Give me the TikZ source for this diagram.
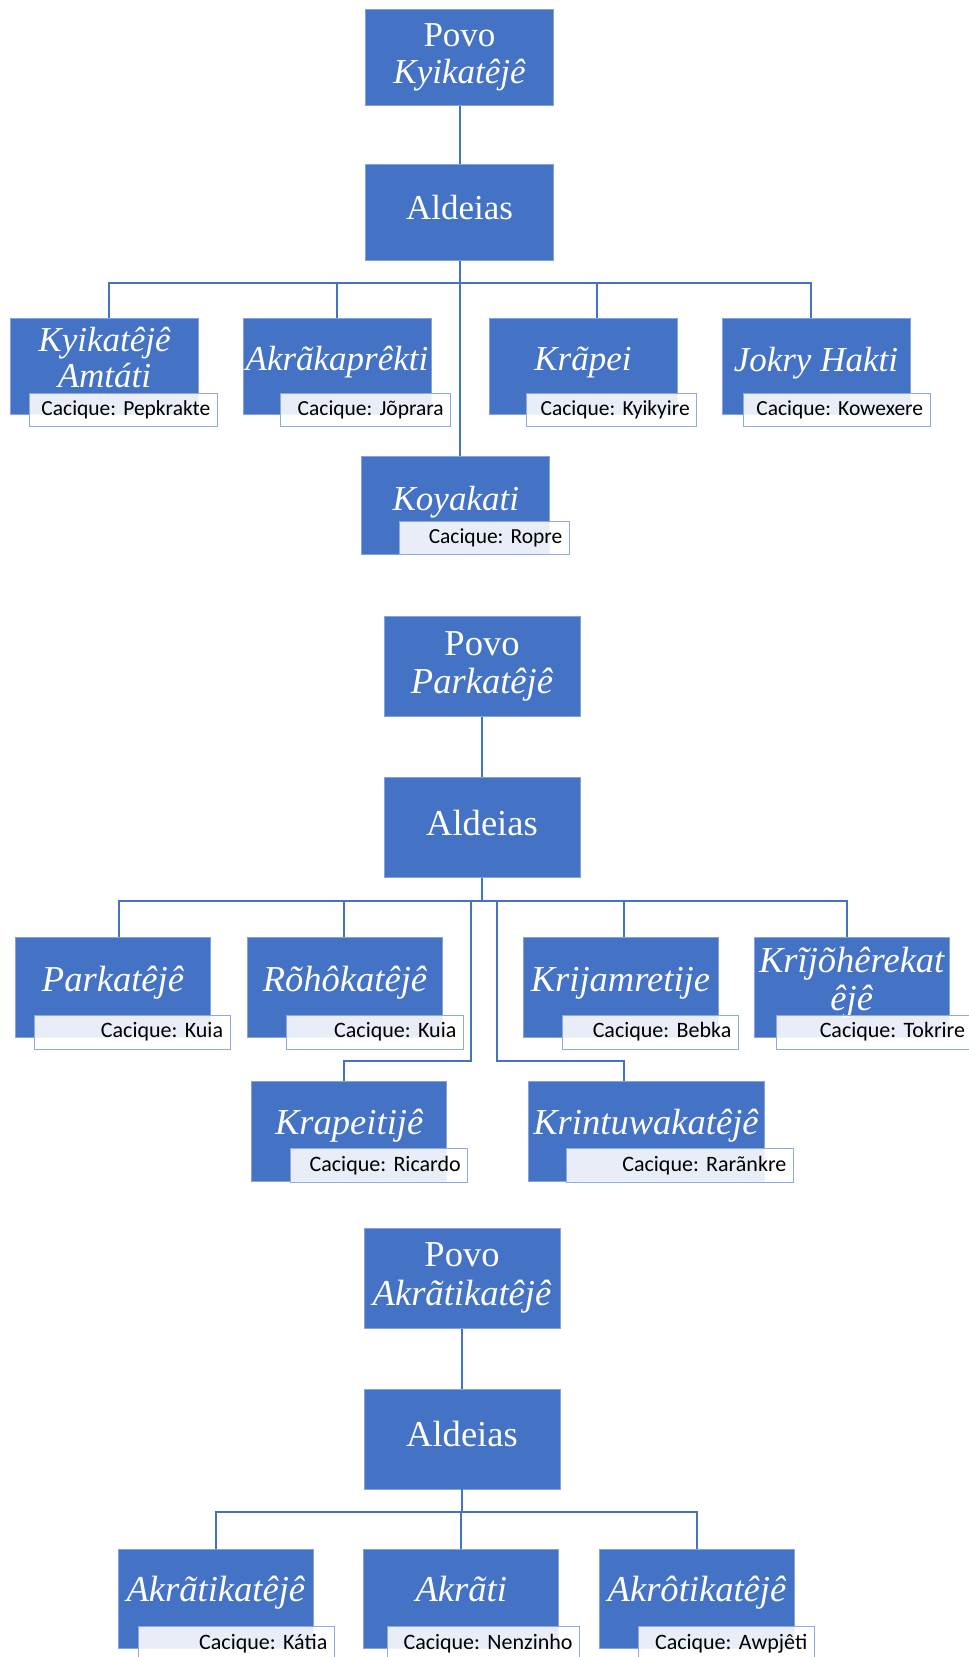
\documentclass[tikz,border=0pt]{standalone}
\usepackage{fontspec}
\setmainfont{Liberation Serif}
\newfontfamily\cacfont{Carlito}
\usetikzlibrary{calc}
\definecolor{boxblue}{HTML}{4472C4}
\definecolor{cacedge}{HTML}{8FAADC}
\definecolor{linkblue}{HTML}{4472C4}

\begin{document}
\begin{tikzpicture}[x=0.75pt, y=-0.75pt,
  vilbox/.style={rectangle, fill=boxblue, draw=boxblue!65!white, line width=0.5pt, inner sep=0pt},
  top1/.style={vilbox, text=white, align=center, minimum width=141pt, minimum height=72pt,
    font=\fontsize{26.25pt}{27.6pt}\selectfont},
  top2/.style={top1, minimum width=147pt, minimum height=75pt,
    font=\fontsize{27.4pt}{28.6pt}\selectfont},
  vil1/.style={vilbox, minimum width=141pt, minimum height=72pt},
  vil2/.style={vilbox, minimum width=146.25pt, minimum height=75pt},
  name1/.style={text=white, inner sep=0pt, anchor=base, align=center,
    font=\fontsize{26.25pt}{27.5pt}\selectfont\itshape},
  name2/.style={name1, font=\fontsize{27.4pt}{28.6pt}\selectfont\itshape},
  cac1/.style={rectangle, draw=cacedge, line width=0.75pt, fill=white, fill opacity=0.88,
    text opacity=1, text=black, inner xsep=5.25pt, inner ysep=0pt, align=right,
    minimum height=24.75pt, font=\cacfont\frenchspacing\fontsize{16.1pt}{19pt}\selectfont},
  cac2/.style={cac1, minimum height=25.5pt,
    font=\cacfont\frenchspacing\fontsize{16.5pt}{19.5pt}\selectfont},
  link/.style={draw=linkblue, line width=1.5pt}]

  \useasboundingbox (0,0) rectangle (968,1657);

  % ---- Povo Kyikatêjê ----
  \node[top1] (pk) at (459.5,57.5) {\strut Povo\\\strut\textit{Kyikatêjê}};
  \node[top1] (ak) at (459.5,212.3) {\strut Aldeias};

  \node[vil1] (k1) at (104.5,366.4) {};
  \node[vil1] (k2) at (337,366.4) {};
  \node[vil1] (k3) at (583,366.4) {};
  \node[vil1] (k4) at (815.9,366.4) {};
  \node[vil1, minimum height=73.3pt] (k5) at (455.8,505.2) {};

  % base of a two-line name is its last line
  \node[name1] (k1n) at ($(k1.north)+(0,69.8)$) {Kyikatêjê\\Amtáti};
  \node[name1] (k2n) at ($(k2.north)+(0,52.2)$) {Akrãkaprêkti};
  \node[name1] (k3n) at ($(k3.north)+(0,52.2)$) {Krãpei};
  \node[name1] (k4n) at ($(k4.north)+(0,53.5)$) {Jokry Hakti};
  \node[name1] (k5n) at ($(k5.north)+(0,54.7)$) {Koyakati};

  \node[cac1, text width=130.7pt] (c1) at (123.2,409.8) {Cacique: Pepkrakte};
  \node[cac1, text width=117.3pt] (c2) at (365.5,409.8) {Cacique: Jõprara};
  \node[cac1, text width=117.5pt] (c3) at (611.4,409.8) {Cacique: Kyikyire};
  \node[cac1, text width=129.2pt] (c4) at (836.9,409.8) {Cacique: Kowexere};
  \node[cac1, text width=117.2pt] (c5) at (484.2,537.9) {Cacique: Ropre};

  \coordinate (bk) at (459.5,282.7);
  \draw[link] (pk) -- (ak);
  \draw[link] (ak) -- (bk) -| ($(k1.north)+(4.8,0)$);
  \draw[link] (bk) -| (k2.north);
  \draw[link] (bk) -| ($(k3.north)+(14,0)$);
  \draw[link] (bk) -| ($(k4.north)+(-5.4,0)$);
  \draw[link] (bk) -| ($(k5.north)+(3.7,0)$);

  % ---- Povo Parkatêjê ----
  \node[top2] (pp) at (482,666.7) {\strut Povo\\\strut\textit{Parkatêjê}};
  \node[top2] (ap) at (482,827.5) {\strut Aldeias};

  \node[vil2] (p1) at (113,987.3) {};
  \node[vil2] (p2) at (345,987.3) {};
  \node[vil2] (p3) at (620.4,987.3) {};
  \node[vil2] (p4) at (851.7,987.3) {};
  \node[vil2, minimum height=75.5pt] (p5) at (349.2,1131.3) {};
  \node[vil2, minimum height=75.5pt, minimum width=177pt] (p6) at (646,1131.3) {};

  \node[name2] (p1n) at ($(p1.north)+(0,54.4)$) {Parkatêjê};
  \node[name2] (p2n) at ($(p2.north)+(0,54.4)$) {Rõhôkatêjê};
  \node[name2] (p3n) at ($(p3.north)+(0,54.4)$) {Krijamretije};
  \node[name2] (p4n) at ($(p4.north)+(0,73.4)$) {Krĩjõhêrekat\\êjê};
  \node[name2] (p5n) at ($(p5.north)+(0,54)$) {Krapeitijê};
  \node[name2] (p6n) at ($(p6.north)+(0,54)$) {Krintuwakatêjê};

  \node[cac2, text width=136.3pt] (d1) at (132.2,1032) {Cacique: Kuia};
  \node[cac2, text width=122.5pt] (d2) at (374.7,1032) {Cacique: Kuia};
  \node[cac2, text width=121.5pt] (d3) at (650.3,1032) {Cacique: Bebka};
  \node[cac2, text width=136pt] (d4) at (874.4,1032) {Cacique: Tokrire};
  \node[cac2, text width=122.3pt] (d5) at (379.2,1165.5) {Cacique: Ricardo};
  \node[cac2, text width=160pt] (d6) at (679.7,1165.5) {Cacique: Rarãnkre};

  \coordinate (bp) at (482,900.7);
  \draw[link] (pp) -- (ap);
  \draw[link] (ap) -- (bp) -| ($(p1.north)+(5.5,0)$);
  \draw[link] (bp) -| ($(p2.north)+(-0.6,0)$);
  \draw[link] (bp) -| ($(p3.north)+(3.1,0)$);
  \draw[link] (bp) -| ($(p4.north)+(-4.7,0)$);
  \draw[link] ($(bp)+(-11.3,0)$) -- ++(0,160) -| ($(p5.north)+(-4.8,0)$);
  \draw[link] ($(bp)+(15,0)$) -- ++(0,160) -| ($(p6.north)+(-22.5,0)$);

  % ---- Povo Akrãtikatêjê ----
  \node[top2] (pa) at (462,1278.3) {\strut Povo\\\strut\textit{Akrãtikatêjê}};
  \node[top2] (aa) at (462,1439) {\strut Aldeias};

  \node[vil2, minimum height=74.25pt] (a1) at (215.9,1598.5) {};
  \node[vil2, minimum height=74.25pt] (a2) at (461.3,1598.5) {};
  \node[vil2, minimum height=74.25pt] (a3) at (697,1598.5) {};

  \node[name2] (a1n) at ($(a1.north)+(0,52.7)$) {Akrãtikatêjê};
  \node[name2] (a2n) at ($(a2.north)+(0,52.7)$) {Akrãti};
  \node[name2] (a3n) at ($(a3.north)+(0,52.7)$) {Akrôtikatêjê};

  \node[cac2, text width=136.5pt] (e1) at (236.3,1643.7) {Cacique: Kátia};
  \node[cac2, text width=133.8pt] (e2) at (483.4,1643.7) {Cacique: Nenzinho};
  \node[cac2, text width=121.5pt] (e3) at (726.3,1643.7) {Cacique: Awpjêti};

  \coordinate (ba) at (462,1511.7);
  \draw[link] (pa) -- (aa);
  \draw[link] (aa) -- (ba) -| (a1.north);
  \draw[link] (ba) -| (a2.north);
  \draw[link] (ba) -| (a3.north);

\end{tikzpicture}
\end{document}
